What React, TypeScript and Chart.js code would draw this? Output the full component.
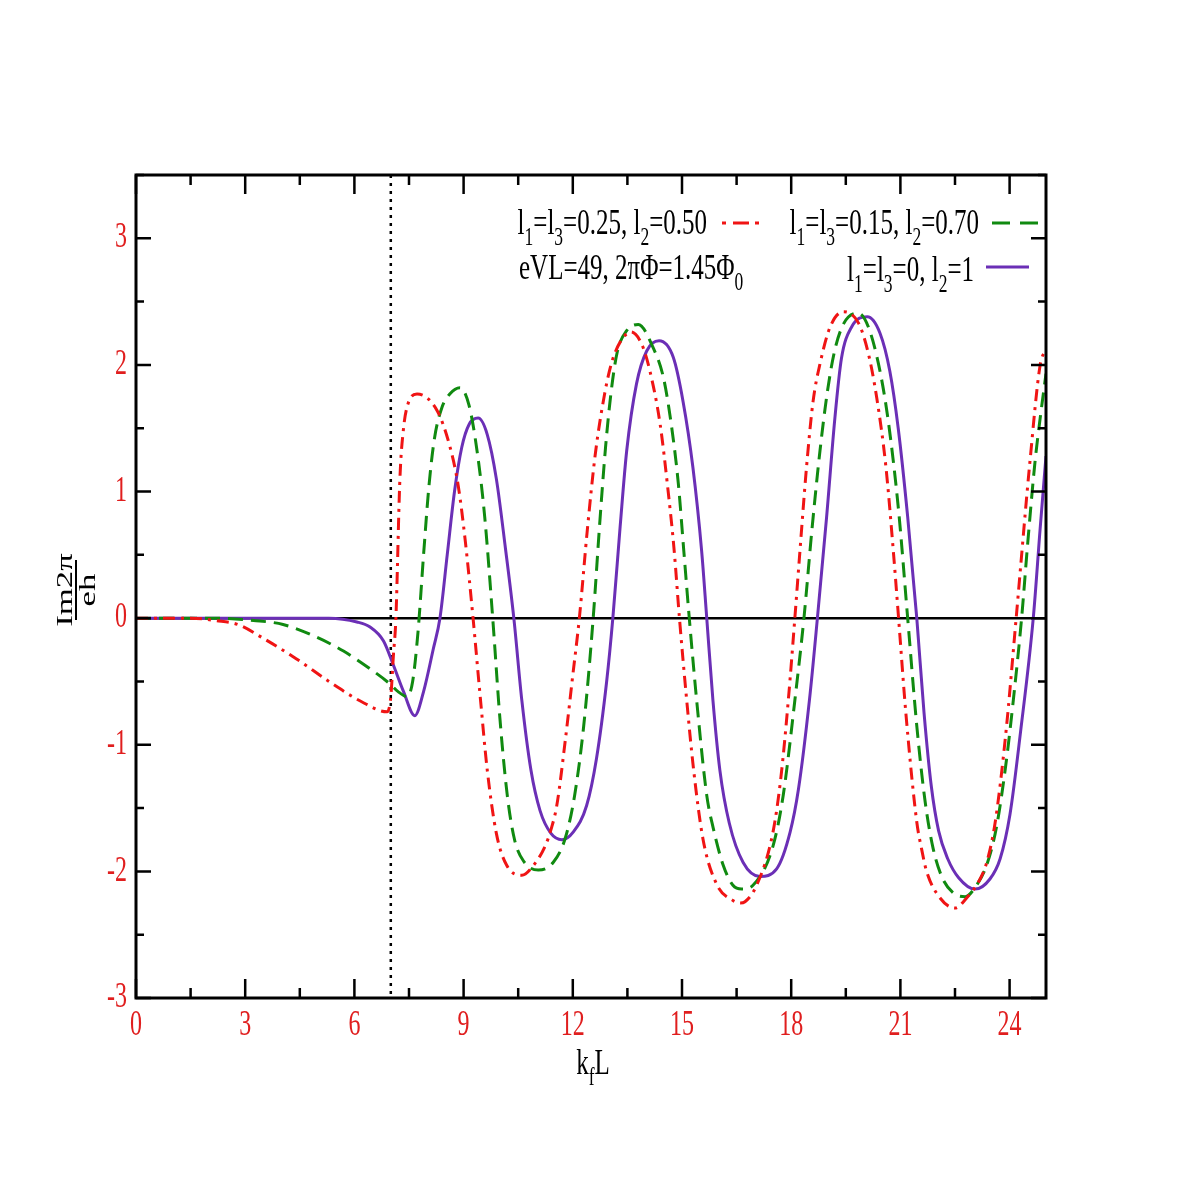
import React, { useEffect, useRef } from "react";
import { Chart, registerables } from "chart.js";

Chart.register(...registerables);

// ---------------- data ----------------
const redX = [0, 1.5, 2.2, 2.8, 3.5, 4.4, 5.3, 6.2, 6.9, 7.0, 7.07, 7.14, 7.25, 7.35, 7.47, 7.72, 8.27, 8.6, 8.85, 9.05, 9.26, 9.45, 9.65, 9.9, 10.18, 10.6, 10.9, 11.24, 11.4, 11.56, 11.8, 12.0, 12.18, 12.4, 12.62, 12.88, 13.07, 13.3, 13.6, 13.9, 14.12, 14.4, 14.62, 14.78, 14.93, 15.12, 15.32, 15.58, 15.95, 16.4, 16.6, 16.73, 17.05, 17.5, 17.72, 17.92, 18.1, 18.24, 18.42, 18.6, 18.8, 19.07, 19.43, 19.85, 20.12, 20.35, 20.6, 20.8, 20.95, 21.15, 21.45, 21.58, 21.72, 22.09, 22.5, 22.82, 23.19, 23.37, 23.6, 23.9, 24.18, 24.56, 24.84, 25];
const redY = [0, 0, -0.02, -0.05, -0.16, -0.32, -0.5, -0.66, -0.74, -0.62, -0.3, 0, 1.1, 1.5, 1.69, 1.77, 1.64, 1.38, 1.05, 0.6, 0, -0.6, -1.2, -1.7, -1.95, -2.03, -1.96, -1.8, -1.67, -1.48, -0.95, -0.45, 0, 0.7, 1.3, 1.78, 2.02, 2.18, 2.26, 2.16, 1.95, 1.53, 1.0, 0.55, 0, -0.62, -1.2, -1.75, -2.1, -2.23, -2.25, -2.24, -2.11, -1.69, -1.25, -0.65, 0, 0.53, 1.19, 1.71, 2.02, 2.3, 2.42, 2.33, 2.09, 1.74, 1.2, 0.55, 0, -0.75, -1.61, -1.82, -2.0, -2.21, -2.29, -2.21, -2.06, -1.93, -1.62, -0.9, 0, 1.24, 2.0, 2.12];

const greenX = [0, 2.0, 3.3, 4.04, 4.96, 5.7, 6.43, 6.98, 7.2, 7.45, 7.6, 7.75, 7.9, 8.05, 8.2, 8.4, 8.62, 8.9, 9.15, 9.38, 9.58, 9.8, 10.0, 10.2, 10.4, 10.65, 11.05, 11.46, 11.79, 12.05, 12.3, 12.56, 12.74, 12.9, 13.05, 13.22, 13.48, 13.8, 14.2, 14.49, 14.72, 14.9, 15.05, 15.2, 15.42, 15.68, 15.86, 16.13, 16.4, 16.64, 16.95, 17.5, 17.78, 18.1, 18.35, 18.57, 18.79, 19.0, 19.2, 19.45, 19.84, 20.12, 20.44, 20.67, 20.95, 21.2, 21.45, 21.68, 21.9, 22.15, 22.45, 22.78, 23.09, 23.37, 23.64, 23.9, 24.12, 24.33, 24.5, 24.7, 24.84, 25];
const greenY = [0, 0, -0.02, -0.05, -0.15, -0.26, -0.4, -0.52, -0.58, -0.62, -0.5, -0.1, 0.5, 1.05, 1.42, 1.66, 1.77, 1.82, 1.68, 1.3, 0.8, 0, -0.8, -1.4, -1.75, -1.92, -1.99, -1.93, -1.74, -1.4, -0.85, 0, 0.75, 1.35, 1.78, 2.1, 2.27, 2.32, 2.14, 1.9, 1.5, 1.06, 0.53, 0, -0.7, -1.4, -1.66, -1.95, -2.11, -2.14, -2.11, -1.8, -1.4, -0.65, 0, 0.7, 1.32, 1.8, 2.12, 2.33, 2.41, 2.3, 1.95, 1.55, 0.85, 0, -0.85, -1.45, -1.82, -2.05, -2.17, -2.2, -2.11, -1.95, -1.65, -1.15, -0.6, 0, 0.6, 1.24, 1.58, 1.93];

const purpleX = [0, 5.3, 6.07, 6.43, 6.8, 7.07, 7.35, 7.66, 7.9, 8.17, 8.35, 8.55, 8.75, 8.95, 9.15, 9.4, 9.65, 9.9, 10.15, 10.38, 10.6, 10.85, 11.1, 11.4, 11.7, 12.01, 12.38, 12.65, 12.93, 13.1, 13.3, 13.48, 13.75, 14.03, 14.37, 14.76, 15.03, 15.3, 15.54, 15.68, 15.85, 16.04, 16.3, 16.68, 17.14, 17.6, 17.97, 18.2, 18.5, 18.72, 18.97, 19.2, 19.38, 19.66, 20.09, 20.44, 20.71, 20.94, 21.2, 21.45, 21.65, 21.85, 22.05, 22.3, 22.6, 23.05, 23.46, 23.74, 24.01, 24.3, 24.65, 24.84, 25];
const purpleY = [0, 0, -0.03, -0.07, -0.18, -0.37, -0.58, -0.77, -0.58, -0.24, 0, 0.5, 1.0, 1.35, 1.53, 1.58, 1.45, 1.1, 0.55, 0, -0.65, -1.2, -1.52, -1.7, -1.75, -1.69, -1.48, -1.11, -0.5, 0, 0.72, 1.32, 1.85, 2.11, 2.19, 2.06, 1.71, 1.19, 0.53, 0, -0.65, -1.2, -1.62, -1.93, -2.04, -1.98, -1.69, -1.35, -0.65, 0, 0.79, 1.58, 2.05, 2.3, 2.38, 2.25, 1.95, 1.5, 0.8, 0, -0.75, -1.33, -1.68, -1.9, -2.05, -2.14, -2.06, -1.9, -1.55, -0.9, 0, 0.71, 1.28];

// rich-text segments: [text, isSubscript]
type Seg = [string, boolean];
const redLabel: Seg[] = [["l", false], ["1", true], ["=l", false], ["3", true], ["=0.25, l", false], ["2", true], ["=0.50", false]];
const greenLabel: Seg[] = [["l", false], ["1", true], ["=l", false], ["3", true], ["=0.15, l", false], ["2", true], ["=0.70", false]];
const purpleLabel: Seg[] = [["l", false], ["1", true], ["=l", false], ["3", true], ["=0, l", false], ["2", true], ["=1", false]];
const paramLabel: Seg[] = [["eVL=49, 2\u03C0\u03A6=1.45\u03A6", false], ["0", true]];
const xTitle: Seg[] = [["k", false], ["f", true], ["L", false]];
const yTitleTop = "Im2\u03C0";
const yTitleBottom = "eh";

const xMin = 0, xMax = 25, xStep = 1.5, xLabelEvery = 3;
const yMin = -3, yMax = 3.5, yStep = 0.5, yLabelEvery = 1;
const thresholdX = 7.0;

// ---------------- style ----------------
const RED = "#f01414";
const GREEN = "#108a10";
const PURPLE = "#6b2fb6";
const TICK_RED = "#e01e1e";
const SERIF = '"Liberation Serif", "Times New Roman", Times, serif';
const SY = 1.45; // vertical stretch of the lettering seen in the reference

function isMult(v: number, m: number) {
  const r = v / m;
  return Math.abs(r - Math.round(r)) < 1e-6;
}

function segsWidth(ctx: CanvasRenderingContext2D, segs: Seg[], size: number) {
  let w = 0;
  for (const [t, s] of segs) {
    ctx.font = `${s ? size * 0.7 : size}px ${SERIF}`;
    w += ctx.measureText(t).width;
  }
  return w;
}

function drawSegs(ctx: CanvasRenderingContext2D, segs: Seg[], x: number, baseline: number, size: number, align: "left" | "right" | "center") {
  const w = segsWidth(ctx, segs, size);
  const x0 = align === "right" ? x - w : align === "center" ? x - w / 2 : x;
  ctx.save();
  ctx.translate(x0, baseline);
  ctx.scale(1, SY);
  ctx.textAlign = "left";
  ctx.textBaseline = "alphabetic";
  let cx = 0;
  for (const [t, s] of segs) {
    ctx.font = `${s ? size * 0.7 : size}px ${SERIF}`;
    ctx.fillText(t, cx, s ? size * 0.3 : 0);
    cx += ctx.measureText(t).width;
  }
  ctx.restore();
}

function drawCentered(ctx: CanvasRenderingContext2D, text: string, x: number, y: number, size: number, align: CanvasTextAlign) {
  ctx.save();
  ctx.translate(x, y);
  ctx.scale(1, SY);
  ctx.font = `${size}px ${SERIF}`;
  ctx.textAlign = align;
  ctx.textBaseline = "middle";
  ctx.fillText(text, 0, 0);
  ctx.restore();
}

const decorPlugin = {
  id: "decor",
  beforeDatasetsDraw(chart: any) {
    const { ctx, chartArea: a, scales } = chart;
    const xs = scales.x, ys = scales.y;
    ctx.save();
    const y0 = ys.getPixelForValue(0);
    ctx.strokeStyle = "#000";
    ctx.lineWidth = 2.5;
    ctx.beginPath();
    ctx.moveTo(a.left, y0);
    ctx.lineTo(a.right, y0);
    ctx.stroke();
    const xd = xs.getPixelForValue(thresholdX);
    ctx.setLineDash([3, 5]);
    ctx.lineWidth = 2.5;
    ctx.beginPath();
    ctx.moveTo(xd, a.top);
    ctx.lineTo(xd, a.bottom);
    ctx.stroke();
    ctx.restore();
  },
  afterDraw(chart: any) {
    const { ctx, chartArea: a, scales } = chart;
    const xs = scales.x, ys = scales.y;
    ctx.save();
    ctx.strokeStyle = "#000";
    ctx.lineWidth = 3;
    ctx.strokeRect(a.left, a.top, a.right - a.left, a.bottom - a.top);

    // ticks (inside, on all four sides)
    ctx.lineWidth = 2.5;
    for (const t of xs.ticks) {
      const px = xs.getPixelForValue(t.value);
      const len = isMult(t.value, xLabelEvery) ? 19 : 10;
      ctx.beginPath();
      ctx.moveTo(px, a.bottom);
      ctx.lineTo(px, a.bottom - len);
      ctx.moveTo(px, a.top);
      ctx.lineTo(px, a.top + len);
      ctx.stroke();
    }
    for (const t of ys.ticks) {
      const py = ys.getPixelForValue(t.value);
      const len = isMult(t.value, yLabelEvery) ? 15 : 8;
      ctx.beginPath();
      ctx.moveTo(a.left, py);
      ctx.lineTo(a.left + len, py);
      ctx.moveTo(a.right, py);
      ctx.lineTo(a.right - len, py);
      ctx.stroke();
    }

    // tick labels
    ctx.fillStyle = TICK_RED;
    for (const t of xs.ticks) {
      if (!isMult(t.value, xLabelEvery)) continue;
      drawCentered(ctx, String(Math.round(t.value)), xs.getPixelForValue(t.value), a.bottom + 28, 24, "center");
    }
    for (const t of ys.ticks) {
      if (!isMult(t.value, yLabelEvery)) continue;
      drawCentered(ctx, String(Math.round(t.value)), a.left - 9, ys.getPixelForValue(t.value), 24, "right");
    }

    // axis titles
    ctx.fillStyle = "#000";
    drawSegs(ctx, xTitle, (a.left + a.right) / 2 + 2, a.bottom + 76, 25, "center");

    // y title: fraction, rotated
    ctx.save();
    ctx.translate(76, 590);
    ctx.rotate(-Math.PI / 2);
    ctx.scale(SY, 1);
    ctx.font = `24px ${SERIF}`;
    ctx.textAlign = "center";
    ctx.textBaseline = "alphabetic";
    ctx.fillText(yTitleTop, 0, -4);
    ctx.fillText(yTitleBottom, 0, 19);
    ctx.restore();
    ctx.lineWidth = 2;
    ctx.beginPath();
    ctx.moveTo(76, 590 - 30);
    ctx.lineTo(76, 590 + 30);
    ctx.stroke();

    // legend
    ctx.fillStyle = "#000";
    drawSegs(ctx, redLabel, 707, 234, 25, "right");
    drawSegs(ctx, greenLabel, 979, 234, 25, "right");
    drawSegs(ctx, paramLabel, 519, 279, 25, "left");
    drawSegs(ctx, purpleLabel, 974, 281, 25, "right");

    ctx.lineWidth = 3;
    // red dot-dash-dot sample
    ctx.strokeStyle = RED;
    ctx.beginPath();
    ctx.moveTo(722, 223); ctx.lineTo(726, 223);
    ctx.moveTo(733, 223); ctx.lineTo(749, 223);
    ctx.moveTo(755, 223); ctx.lineTo(759, 223);
    ctx.stroke();
    // green dashed sample
    ctx.strokeStyle = GREEN;
    ctx.beginPath();
    ctx.moveTo(992, 223); ctx.lineTo(1010, 223);
    ctx.moveTo(1020, 223); ctx.lineTo(1038, 223);
    ctx.stroke();
    // purple solid sample
    ctx.strokeStyle = PURPLE;
    ctx.beginPath();
    ctx.moveTo(986, 267); ctx.lineTo(1029, 267);
    ctx.stroke();
    ctx.restore();
  },
};

function pts(xs: number[], ys: number[]) {
  return xs.map((x, i) => ({ x, y: ys[i] }));
}

export default function App() {
  const ref = useRef<HTMLCanvasElement | null>(null);
  useEffect(() => {
    if (!ref.current) return;
    const chart = new Chart(ref.current, {
      type: "line",
      data: {
        datasets: [
          {
            label: "l1=l3=0.25, l2=0.50",
            data: pts(redX, redY),
            borderColor: RED,
            borderWidth: 3,
            borderDash: [12, 6, 3, 6],
            pointRadius: 0,
            cubicInterpolationMode: "monotone",
            fill: false,
          },
          {
            label: "l1=l3=0.15, l2=0.70",
            data: pts(greenX, greenY),
            borderColor: GREEN,
            borderWidth: 3,
            borderDash: [15, 8],
            pointRadius: 0,
            cubicInterpolationMode: "monotone",
            fill: false,
          },
          {
            label: "l1=l3=0, l2=1",
            data: pts(purpleX, purpleY),
            borderColor: PURPLE,
            borderWidth: 3,
            pointRadius: 0,
            cubicInterpolationMode: "monotone",
            fill: false,
          },
        ],
      },
      options: {
        responsive: false,
        animation: false,
        devicePixelRatio: 1,
        layout: { padding: { left: 0, top: 175, right: 131, bottom: 0 } },
        plugins: { legend: { display: false }, tooltip: { enabled: false } },
        scales: {
          x: {
            type: "linear",
            min: xMin,
            max: xMax,
            afterFit: (s: any) => { s.height = 179; },
            grid: { display: false, drawTicks: false },
            border: { display: false },
            ticks: { display: false, stepSize: xStep, includeBounds: false, autoSkip: false },
          },
          y: {
            type: "linear",
            min: yMin,
            max: yMax,
            afterFit: (s: any) => { s.width = 136; },
            grid: { display: false, drawTicks: false },
            border: { display: false },
            ticks: { display: false, stepSize: yStep, includeBounds: false, autoSkip: false },
          },
        },
      },
      plugins: [decorPlugin],
    } as any);
    return () => chart.destroy();
  }, []);
  return (
    <div style={{ position: "absolute", left: 0, top: 0, width: 1177, height: 1177, background: "#fff" }}>
      <canvas ref={ref} width={1177} height={1177} style={{ display: "block" }} />
    </div>
  );
}
